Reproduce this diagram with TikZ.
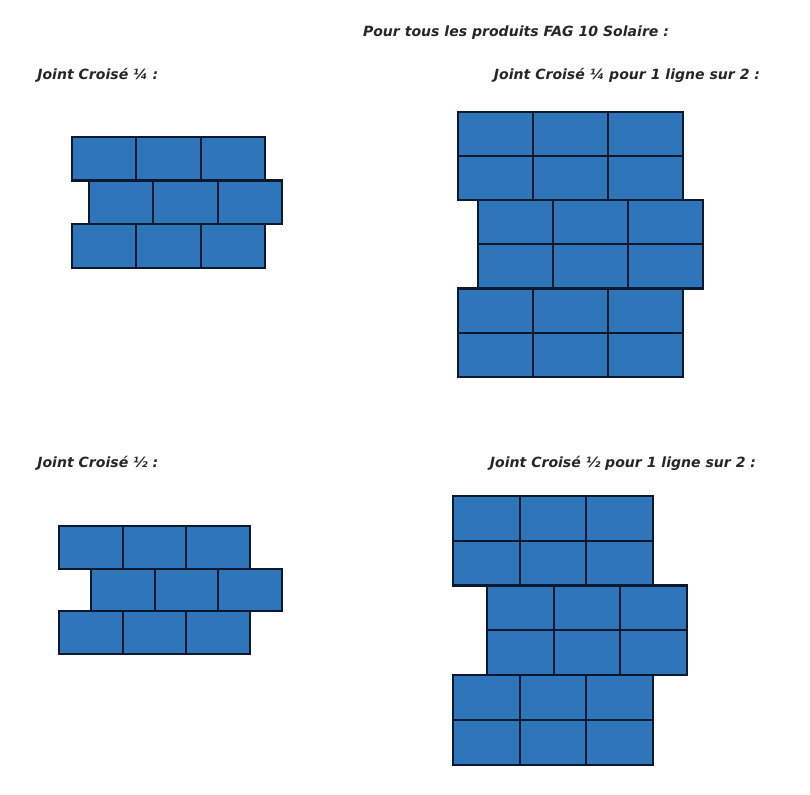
\documentclass[tikz,border=0pt]{standalone}
\usepackage{fontspec}
\setmainfont{DejaVu Sans}
\usepackage{xcolor}
\usepackage{tikz}

\definecolor{tileblue}{RGB}{46,117,186}
\definecolor{tileedge}{RGB}{12,24,45}

% x0, y0, width, height, shift, rows per course
\newcommand{\brickwall}[6]{%
  \foreach \ri in {0,1,2}{
    \foreach \li in {1,...,#6}{
      \foreach \ci in {0,1,2}{
        \pgfmathsetmacro\xa{#1+mod(\ri,2)*#5+\ci*#3}
        \pgfmathsetmacro\ya{#2+(\ri*#6+\li-1)*#4}
        \draw[brick] (\xa,\ya) rectangle ++(#3,#4);
      }}}}

\begin{document}
\begin{tikzpicture}[
    x=0.02cm, y=-0.02cm,
    brick/.style={draw=tileedge, fill=tileblue, line width=1.2pt},
    caption/.style={font=\fontsize{8}{10}\selectfont\bfseries\itshape, text=black!85, inner sep=0pt}
]
\useasboundingbox (0,0) rectangle (810,794);

\node[caption] (title) at (516,33) {Pour tous les produits FAG 10 Solaire :};

\node[caption, anchor=west] (quart) at (37,75) {Joint Croisé ¼ :};
\node[caption] (quartdeux) at (627,75) {Joint Croisé ¼ pour 1 ligne sur 2 :};
\node[caption, anchor=west] (demi) at (37,463) {Joint Croisé ½ :};
\node[caption] (demideux) at (623,463) {Joint Croisé ½ pour 1 ligne sur 2 :};

\brickwall{71.7}{136.7}{64.5}{43.8}{17}{1}
\brickwall{458}{111.7}{75}{44.2}{20}{2}
\brickwall{59}{526}{63.7}{42.7}{32}{1}
\brickwall{453}{495.7}{66.7}{44.9}{34}{2}

\end{tikzpicture}
\end{document}
